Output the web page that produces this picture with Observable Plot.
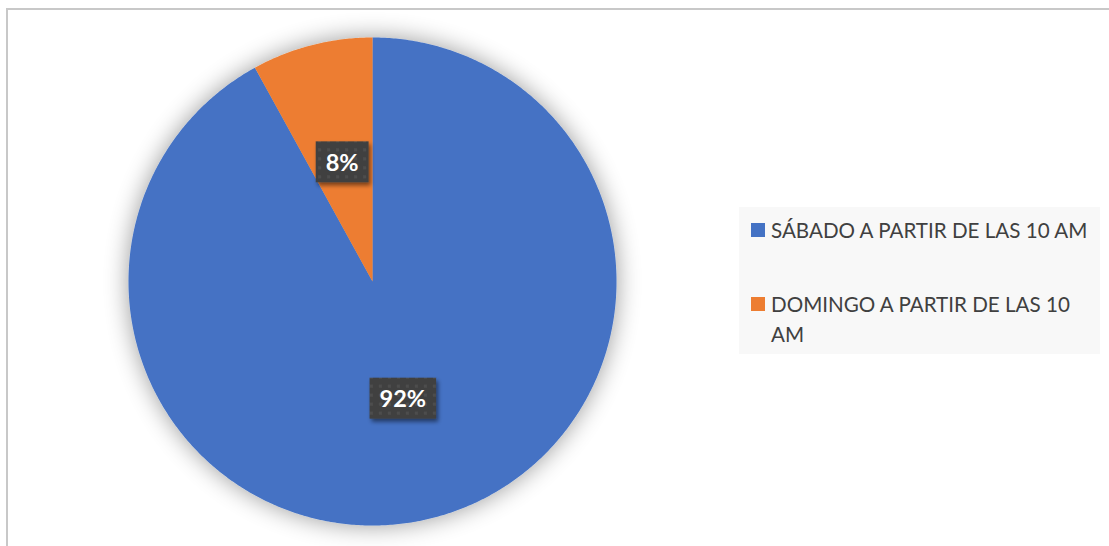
<!DOCTYPE html>
<html>
<head>
<meta charset="utf-8">
<script src="https://cdn.jsdelivr.net/npm/d3@7"></script>
<script src="https://cdn.jsdelivr.net/npm/@observablehq/plot@0.6"></script>
<style>
  html, body { margin: 0; padding: 0; background: #fff; }
  #wrap { position: relative; width: 1109px; height: 546px; overflow: hidden; font-family: Lato, "Open Sans", sans-serif; }
  #frame { position: absolute; left: 6px; top: 8px; width: 1200px; height: 600px; border-top: 2px solid #c8c8c8; border-left: 2px solid #c8c8c8; box-sizing: border-box; }
  #chart { position: absolute; left: 0; top: 0; }
  #legend { position: absolute; left: 739px; top: 207px; width: 361px; height: 147px; background: #f8f8f8; }
  .item { position: absolute; left: 12px; display: flex; align-items: flex-start; }
  .sw { width: 14px; height: 14px; margin-top: 8px; margin-right: 6px; flex: none; }
  .lab { color: #404040; font-size: 20.6px; line-height: 30px; width: 326px; }
</style>
</head>
<body>
<div id="wrap">
  <div id="frame"></div>
  <div id="chart"></div>
  <div id="legend"></div>
</div>
<script>
const categories = ["SÁBADO A PARTIR DE LAS 10 AM", "DOMINGO A PARTIR DE LAS 10 AM"];
const values = [92, 8];
const labels = ["92%", "8%"];
const colors = ["#4472C4", "#ED7D31"];

const rows = categories.map((c, i) => ({name: c, value: values[i], label: labels[i]}));
const arcs = d3.pie().sort(null).value(d => d.value)(rows);

// wedge outlines in unit-circle data space (clockwise from 12 o'clock)
const wedgePts = [];
arcs.forEach(a => {
  const n = Math.max(2, Math.ceil((a.endAngle - a.startAngle) / (Math.PI / 360)));
  wedgePts.push({name: a.data.name, x: 0, y: 0});
  for (let k = 0; k <= n; k++) {
    const t = a.startAngle + (a.endAngle - a.startAngle) * k / n;
    wedgePts.push({name: a.data.name, x: Math.sin(t), y: Math.cos(t)});
  }
  wedgePts.push({name: a.data.name, x: 0, y: 0});
});
const labelPts = arcs.map(a => {
  const m = (a.startAngle + a.endAngle) / 2;
  return {name: a.data.name, label: a.data.label, x: 0.5 * Math.sin(m), y: 0.5 * Math.cos(m)};
});

const cx = 372, cy = 281, R = 244;
const svg = Plot.plot({
  width: 1109,
  height: 546,
  margin: 0,
  x: {domain: [-1, 1], range: [cx - R, cx + R], axis: null},
  y: {domain: [-1, 1], range: [cy + R, cy - R], axis: null},
  color: {domain: categories, range: colors},
  style: {background: "transparent", fontFamily: "Lato, 'Open Sans', sans-serif", overflow: "visible"},
  marks: [
    Plot.line(wedgePts, {x: "x", y: "y", z: "name", fill: "name", stroke: null, curve: "linear"}),
    Plot.text(labelPts, {x: "x", y: "y", text: "label", fill: "white", fontWeight: "bold", fontSize: 23.5})
  ]
});
document.getElementById("chart").appendChild(svg);

const ns = "http://www.w3.org/2000/svg";
const defs = document.createElementNS(ns, "defs");
defs.innerHTML =
  '<filter id="pieShadow" x="-30%" y="-30%" width="160%" height="160%">' +
    '<feGaussianBlur in="SourceAlpha" stdDeviation="12"/>' +
    '<feComponentTransfer><feFuncA type="linear" slope="0.4"/></feComponentTransfer>' +
    '<feMerge><feMergeNode/><feMergeNode in="SourceGraphic"/></feMerge>' +
  '</filter>' +
  '<filter id="boxShadow" x="-30%" y="-30%" width="160%" height="170%">' +
    '<feGaussianBlur in="SourceAlpha" stdDeviation="2"/>' +
    '<feOffset dx="2" dy="3" result="o"/>' +
    '<feComponentTransfer><feFuncA type="linear" slope="0.5"/></feComponentTransfer>' +
    '<feMerge><feMergeNode/><feMergeNode in="SourceGraphic"/></feMerge>' +
  '</filter>' +
  '<pattern id="dots" width="9" height="9" patternUnits="userSpaceOnUse">' +
    '<rect width="9" height="9" fill="#404040"/><rect x="3" y="3" width="3" height="3" fill="#4e4e4e"/></pattern>';
svg.insertBefore(defs, svg.firstChild);

// soft shadow around pie
const pieG = svg.querySelector('g[aria-label="line"]');
if (pieG) pieG.setAttribute("filter", "url(#pieShadow)");

// label boxes with dotted dark pattern
const textG = svg.querySelector('g[aria-label="text"]');
if (textG) {
  textG.querySelectorAll("text").forEach(t => {
    const b = t.getBBox();
    const r = document.createElementNS(ns, "rect");
    const w = b.width + 20, h = 41;
    r.setAttribute("x", b.x + b.width / 2 - w / 2);
    r.setAttribute("y", b.y + b.height / 2 - h / 2);
    r.setAttribute("width", w);
    r.setAttribute("height", h);
    r.setAttribute("fill", "url(#dots)");
    r.setAttribute("filter", "url(#boxShadow)");
    const tr = t.getAttribute("transform");
    if (tr) r.setAttribute("transform", tr);
    textG.insertBefore(r, t);
  });
}

// legend
const legend = document.getElementById("legend");
const tops = [8, 82];
categories.forEach((c, i) => {
  const it = document.createElement("div");
  it.className = "item";
  it.style.top = tops[i] + "px";
  const sw = document.createElement("div");
  sw.className = "sw";
  sw.style.background = colors[i];
  const lab = document.createElement("div");
  lab.className = "lab";
  lab.textContent = c;
  it.appendChild(sw); it.appendChild(lab);
  legend.appendChild(it);
});
</script>
</body>
</html>
